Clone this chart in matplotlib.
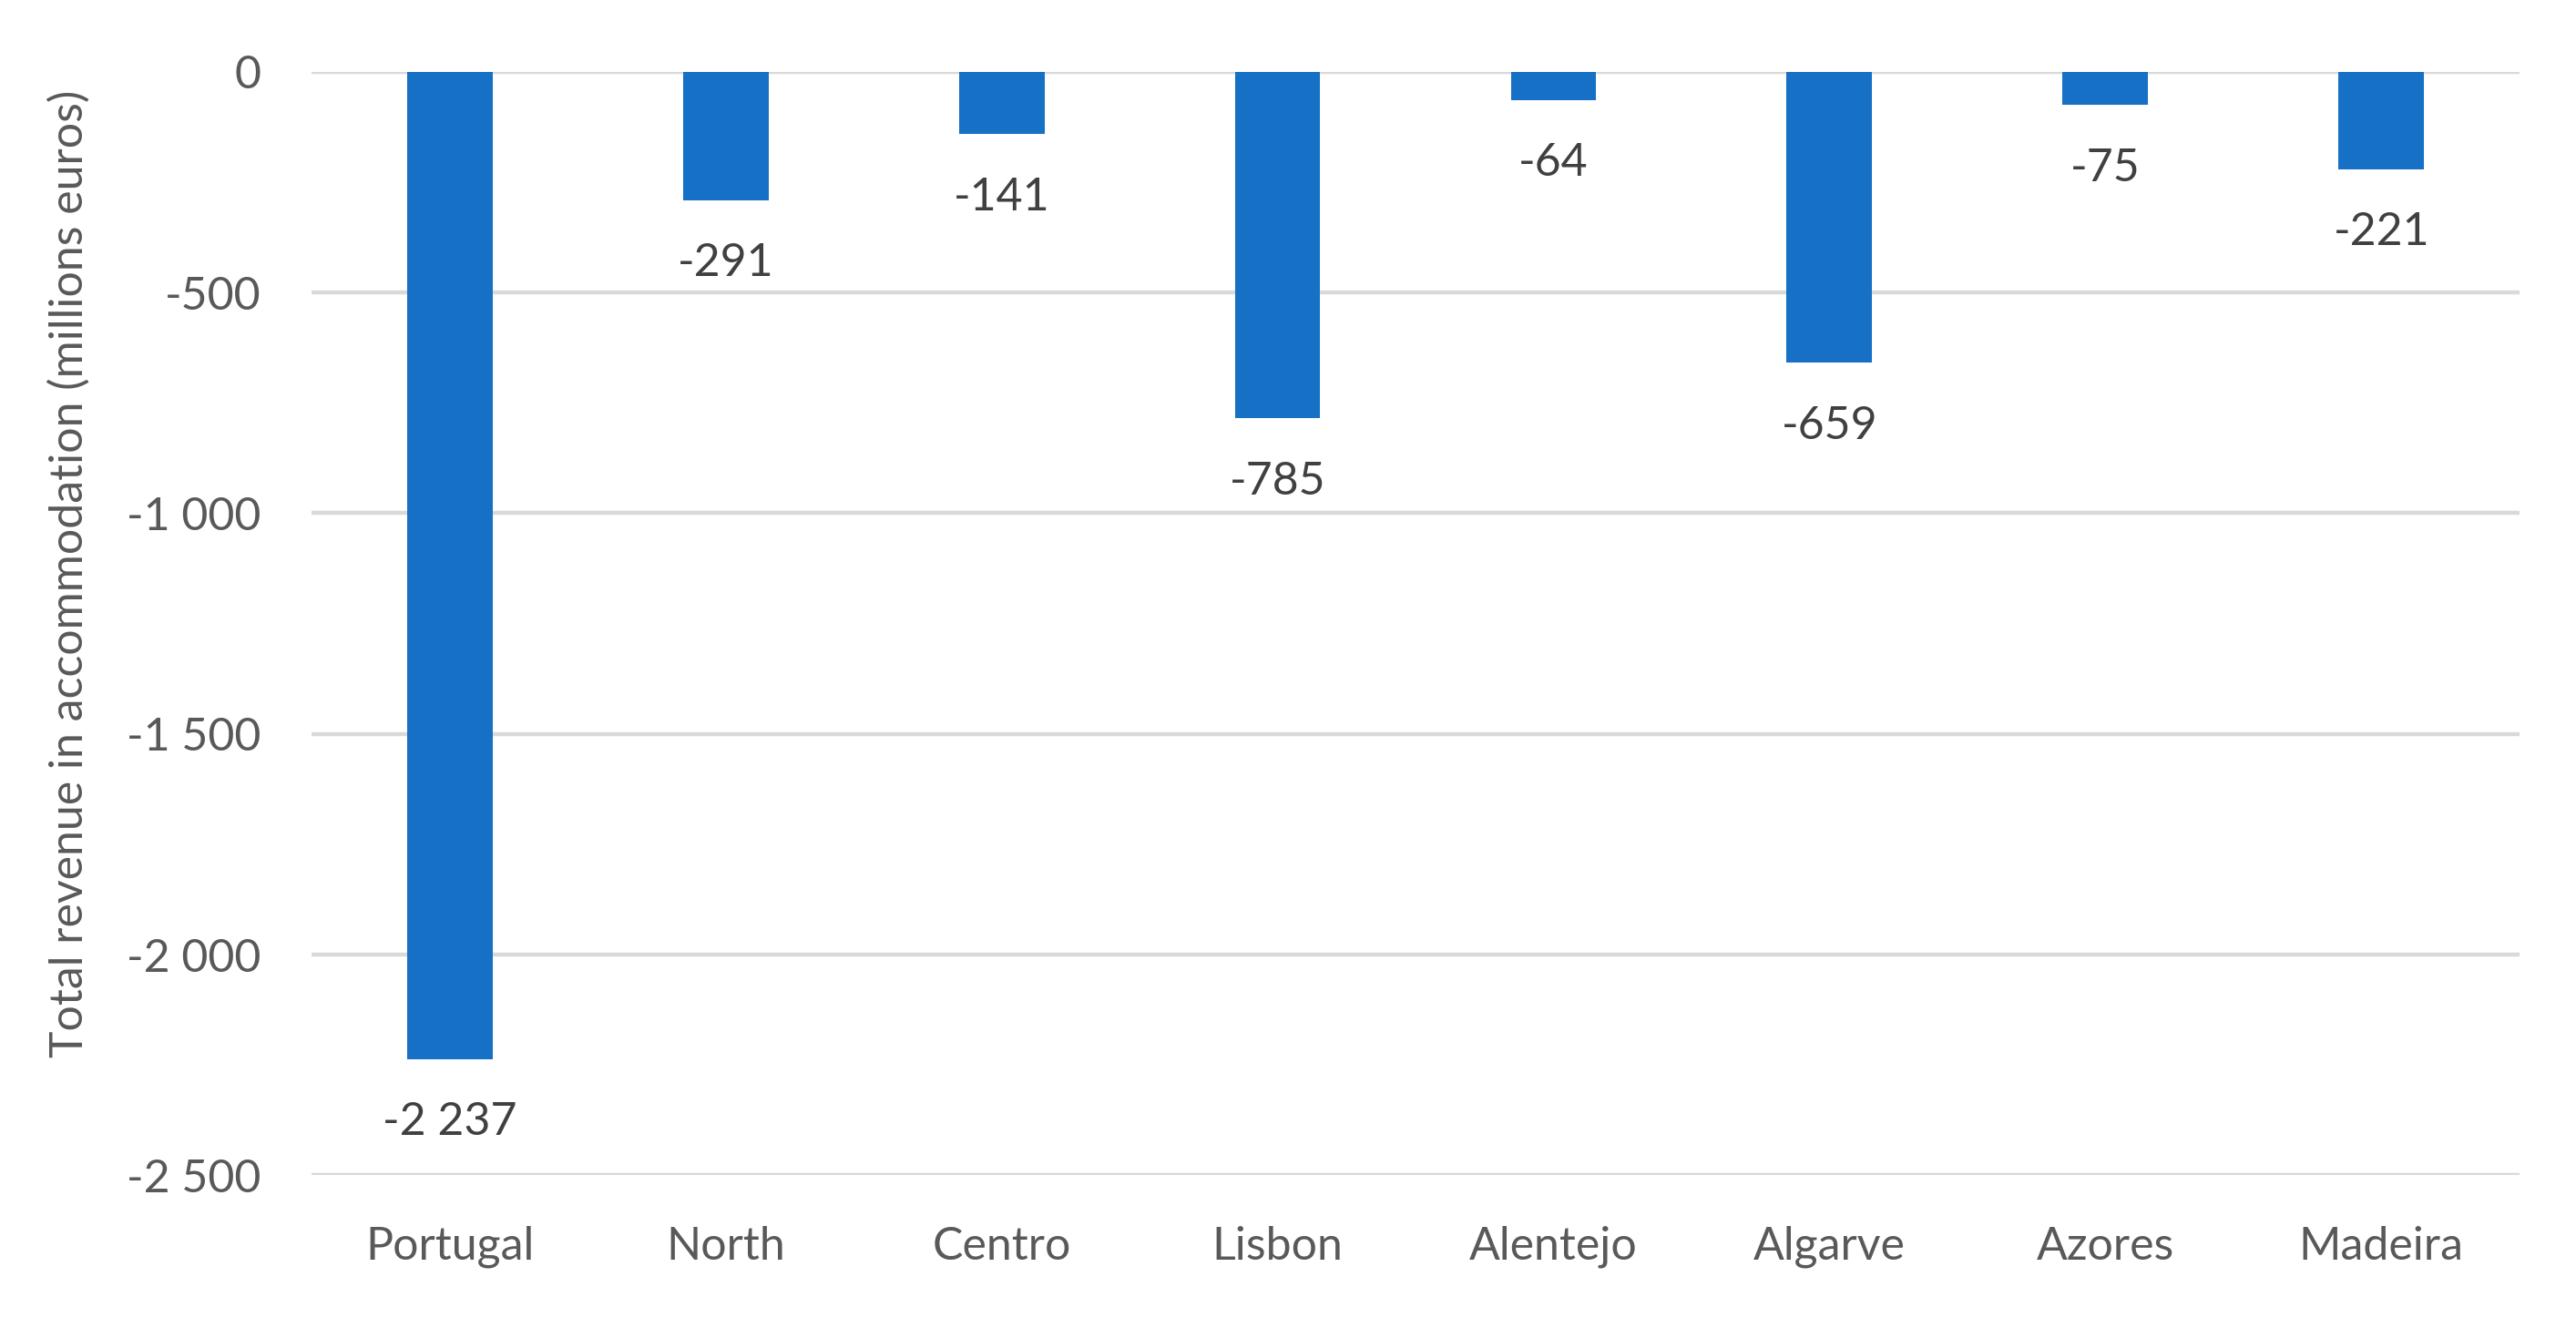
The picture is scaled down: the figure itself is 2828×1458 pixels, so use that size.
import matplotlib.pyplot as plt
from matplotlib.ticker import FuncFormatter

regions = ["Portugal", "North", "Centro", "Lisbon", "Alentejo", "Algarve", "Azores", "Madeira"]
revenue_change = [-2237, -291, -141, -785, -64, -659, -75, -221]
y_ticks = [0, -500, -1000, -1500, -2000, -2500]

plt.rcParams["font.family"] = ["Lato", "DejaVu Sans"]

fig = plt.figure(figsize=(14.14, 7.29), dpi=200)
ax = fig.add_axes([0.121, 0.115, 0.857, 0.831])

x = range(len(regions))
ax.bar(x, revenue_change, width=0.31, color="#1570c6", zorder=3)


def space_thousands(v, pos=None):
    s = f"{abs(int(round(v))):,}".replace(",", " ")
    return ("-" if v < 0 else "") + s


for xi, v in zip(x, revenue_change):
    ax.annotate(space_thousands(v), (xi, v), xytext=(0, -25), textcoords="offset points",
                ha="center", va="center", fontsize=18, color="#404040")

ax.set_xlim(-0.5, len(regions) - 0.5)
ax.set_ylim(-2500, 0)
ax.set_yticks(y_ticks)
ax.yaxis.set_major_formatter(FuncFormatter(space_thousands))
ax.set_xticks(list(x))
ax.set_xticklabels(regions)
ax.tick_params(axis="both", length=0, labelsize=18, labelcolor="#595959")
ax.tick_params(axis="x", pad=20)
ax.tick_params(axis="y", pad=20)
ax.grid(axis="y", color="#d9d9d9", linewidth=1.6, zorder=0)
for s in ax.spines.values():
    s.set_visible(False)
ax.set_ylabel("Total revenue in accommodation (millions euros)", fontsize=18, color="#595959")
ax.yaxis.set_label_coords(-0.1, 0.545)

fig.savefig("out.png", dpi=200)
